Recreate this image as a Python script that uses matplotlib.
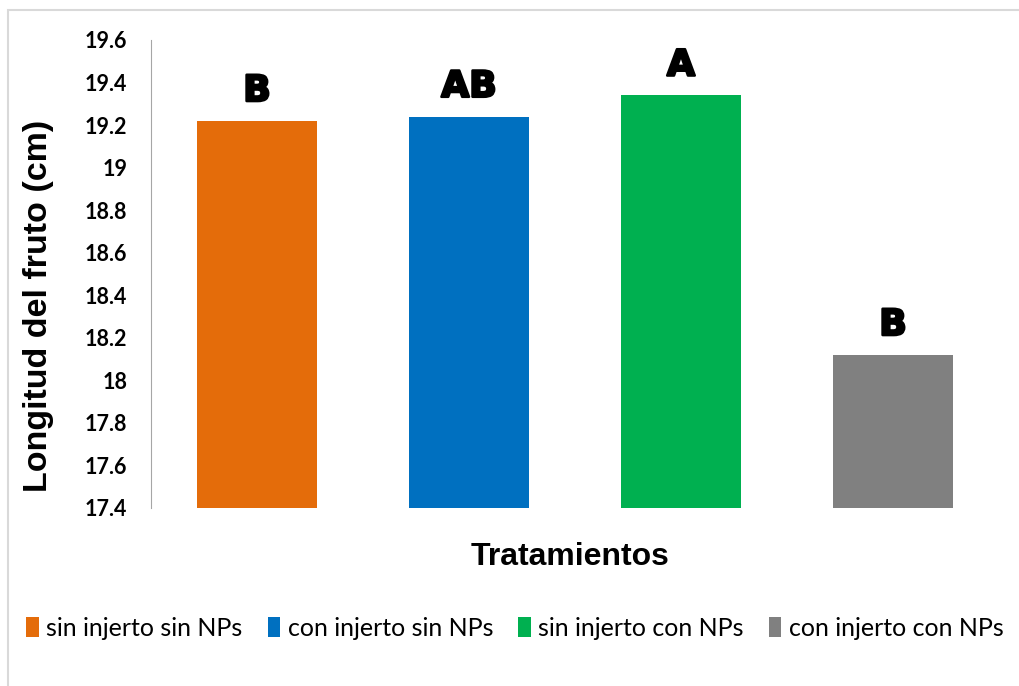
import matplotlib.pyplot as plt
import matplotlib.patheffects as pe
from matplotlib.patches import Rectangle

# ─────────────────────────────────────────
# Data
# ─────────────────────────────────────────
treatments = ["sin injerto sin NPs", "con injerto sin NPs",
              "sin injerto con NPs", "con injerto con NPs"]
lengths    = [19.22, 19.24, 19.34, 18.12]
letters    = ["B", "AB", "A", "B"]
colors     = ["#E46C0A", "#0070C0", "#00B050", "#808080"]
yticks     = [17.4, 17.6, 17.8, 18.0, 18.2, 18.4, 18.6, 18.8, 19.0, 19.2, 19.4, 19.6]
ytick_labels = ["17.4", "17.6", "17.8", "18", "18.2", "18.4", "18.6",
                "18.8", "19", "19.2", "19.4", "19.6"]

# ─────────────────────────────────────────
# Figure
# ─────────────────────────────────────────
fig = plt.figure(figsize=(10.2, 6.86), dpi=100)
fig.patches.append(Rectangle((8 / 1020, -0.1), 1.2, 1 - 10 / 686 + 0.1,
                             transform=fig.transFigure, fill=False,
                             edgecolor="#D9D9D9", linewidth=1.5))

ax = fig.add_axes([151 / 1020, 1 - 508 / 686, 848 / 1020, 468 / 686])
x = list(range(len(treatments)))
bars = ax.bar(x, lengths, width=0.57, color=colors, label=treatments)

ax.set_xlim(-0.5, 3.5)
ax.set_ylim(17.4, 19.6)
ax.set_yticks(yticks)
ax.set_yticklabels(ytick_labels, fontfamily="Lato", fontweight="bold", fontsize=15.5)
ax.set_xticks([])
ax.tick_params(axis="y", length=0, pad=17)

for side in ["top", "right", "bottom"]:
    ax.spines[side].set_visible(False)
ax.spines["left"].set_color("#A6A6A6")

# significance letters
for xi, val, let in zip(x, lengths, letters):
    ax.text(xi, val + 0.06, let, ha="center", va="bottom",
            fontsize=26, fontweight="heavy", family="DejaVu Sans",
            path_effects=[pe.withStroke(linewidth=1.8, foreground="black")])

ax.set_ylabel("Longitud del fruto (cm)", fontsize=24.5, fontweight="bold",
              family="Liberation Sans")
ax.yaxis.set_label_coords(-(151 - 54) / 848, 0.432)
fig.text(570 / 1020, 1 - 557 / 686, "Tratamientos", ha="center", va="center",
         fontsize=23, fontweight="bold", family="Liberation Sans")

fig.legend(handles=bars, labels=treatments, loc="center",
           bbox_to_anchor=(515 / 1020, 1 - 628 / 686), ncol=4, frameon=False,
           prop={"family": "Lato", "size": 18}, handlelength=0.5,
           handleheight=0.9, handletextpad=0.3, columnspacing=1.0)

plt.savefig("out.png", dpi=100)
